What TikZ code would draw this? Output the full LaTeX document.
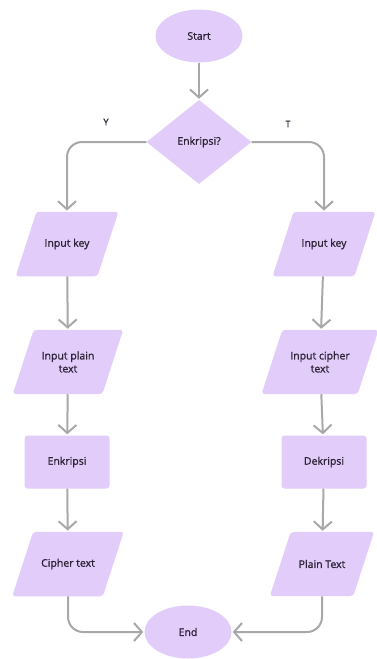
\documentclass[tikz,border=0pt]{standalone}
\usepackage{fontspec}
\setmainfont{Open Sans}[AutoFakeBold=1.2]
\usetikzlibrary{shapes.geometric,arrows.meta}
\definecolor{lav}{RGB}{226,205,250}
\definecolor{ln}{RGB}{168,168,168}
\definecolor{txt}{RGB}{45,35,55}
\tikzset{
mybox/.style={
  fill=lav,
  text=txt,
  font=\fontsize{10.5}{13}\selectfont\bfseries,
  align=center,
  inner sep=0pt
  },
myterm/.style={
  mybox,
  ellipse,
  minimum width=87pt,
  minimum height=53pt
  },
mydec/.style={
  mybox,
  diamond,
  minimum width=105pt,
  minimum height=84pt
  },
myproc/.style={
  mybox,
  rectangle,
  rounded corners=3pt,
  minimum width=85pt,
  minimum height=53pt
  },
myio/.style={
  mybox,
  trapezium,
  trapezium left angle=72,
  trapezium right angle=108,
  rounded corners=3pt,
  inner xsep=8pt,
  inner ysep=#1
  },
myio/.default=27pt,
myline/.style={
  draw=ln,
  line width=2pt
  }
}
\begin{document}
\begin{tikzpicture}[x=1pt, y=-1pt, >={Straight Barb[length=8pt,width=18pt]}]
\useasboundingbox[fill=white] (0,0) rectangle (376,659);

\node[myterm] at (199,36)
  (start) {Start};
\node[mydec] at (199,142)
  (dec) {Enkripsi?};

\node[myio] at (67,244)
  (keyL) {Input key};
\node[myio=21.5pt] at (68,362)
  (plainL) {Input plain\\text};
\node[myproc] at (67,462)
  (enc) {Enkripsi};
\node[myio] at (68,564)
  (cipherL) {Cipher text};

\node[myio] at (324,244)
  (keyR) {Input key};
\node[myio=21.5pt] at (320,362)
  (cipherR) {Input cipher\\text};
\node[myproc] at (324,462)
  (dekr) {Dekripsi};
\node[myio=28pt] at (322,564)
  (plainR) {Plain Text};

\node[myterm] at (188,632)
  (end) {End};

\node[text=txt, font=\fontsize{9}{11}\selectfont\bfseries] at (106,122)
  (lblY) {Y};
\node[text=txt, font=\fontsize{9}{11}\selectfont\bfseries] at (288,124)
  (lblT) {T};

\begin{scope}[myline, shorten >=1pt]
\draw[->]
  (start) -- (dec);
\draw[->, rounded corners=15pt]
  (dec.west) -| (keyL.north);
\draw[->, rounded corners=15pt]
  (dec.east) -| (keyR.north);
\draw[->]
  (keyL) -- (plainL);
\draw[->]
  (plainL) -- (enc);
\draw[->]
  (enc) -- (cipherL);
\draw[->]
  (keyR) -- (cipherR);
\draw[->]
  (cipherR) -- (dekr);
\draw[->]
  (dekr) -- (plainR);
\draw[->, rounded corners=15pt]
  (cipherL.south) |- (end.west);
\draw[->, rounded corners=15pt]
  (plainR.south) |- (end.east);
\end{scope}
\end{tikzpicture}
\end{document}
